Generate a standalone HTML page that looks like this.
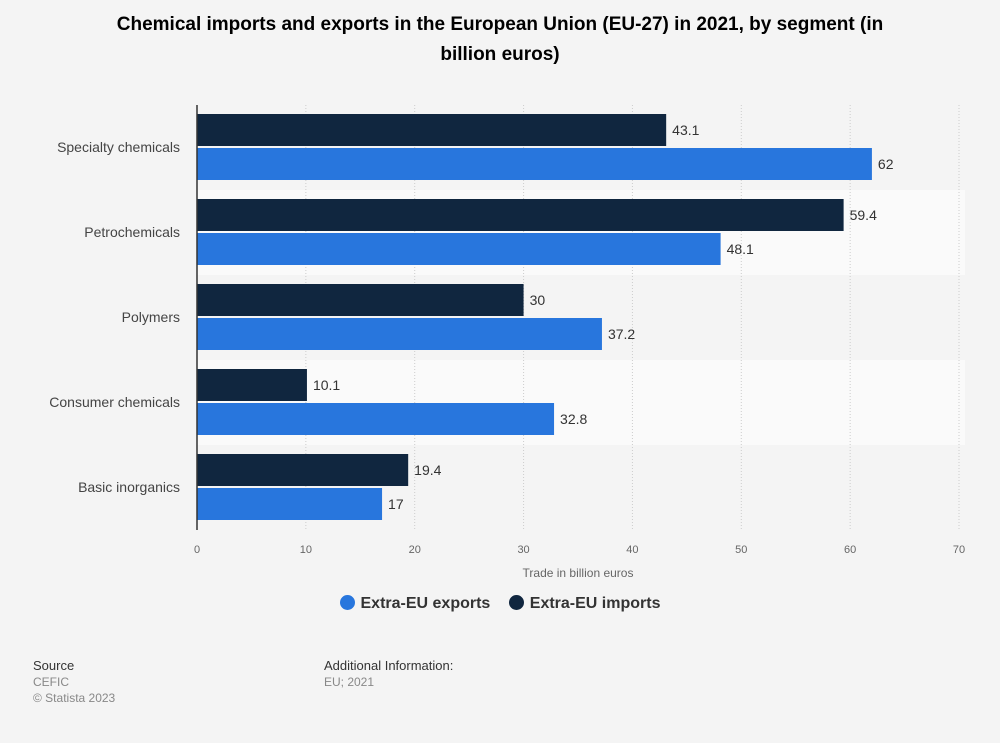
<!DOCTYPE html>
<html><head><meta charset="utf-8"><style>
body{margin:0;background:#f4f4f4;font-family:"Liberation Sans",sans-serif;}
#wrap{position:relative;width:1000px;height:743px;}
.t{position:absolute;}
</style></head><body>
<div id="wrap">
<div class="t" style="left:95px;top:10px;width:810px;text-align:center;font-weight:bold;font-size:19px;line-height:30px;color:#000">Chemical imports and exports in the European Union (EU-27) in 2021, by segment (in billion euros)</div>
<svg id="c" width="1000" height="600" style="position:absolute;left:0;top:0"></svg>
<div class="t" style="left:0;top:595px;width:1000px;text-align:center;font-size:16px;font-weight:bold;color:#333">
<span><span style="display:inline-block;width:15px;height:15px;border-radius:50%;background:#2876dd;vertical-align:-2px;margin-right:6px"></span>Extra-EU exports</span>
<span style="margin-left:14px"><span style="display:inline-block;width:15px;height:15px;border-radius:50%;background:#10263f;vertical-align:-2px;margin-right:6px"></span>Extra-EU imports</span>
</div>
<div class="t" style="left:33px;top:658px;font-size:13px;color:#333;line-height:16px">Source<br><span style="color:#888;font-size:12px">CEFIC<br>© Statista 2023</span></div>
<div class="t" style="left:324px;top:658px;font-size:13px;color:#333;line-height:16px">Additional Information:<br><span style="color:#888;font-size:12px">EU; 2021</span></div>
</div>
<script>
const categories=["Specialty chemicals","Petrochemicals","Polymers","Consumer chemicals","Basic inorganics"];
const imports=[43.1,59.4,30,10.1,19.4];
const exportsV=[62,48.1,37.2,32.8,17];
const ticks=[0,10,20,30,40,50,60,70];
const svg=document.getElementById('c');const NS='http://www.w3.org/2000/svg';
const x0=197,x1=959,top0=105,band=85;
const xs=v=>x0+(v/70)*(x1-x0);
function el(t,a,p){const e=document.createElementNS(NS,t);for(const k in a)e.setAttribute(k,a[k]);(p||svg).appendChild(e);return e;}
categories.forEach((c,i)=>{if(i%2==1){const r=el('rect',{x:x0,y:top0+i*band,width:965-x0,height:band,fill:'#fafafa'});

}});
ticks.forEach(t=>{if(t>0){const l=el('line',{x1:xs(t),x2:xs(t),y1:top0,y2:top0+5*band,stroke:'#ccc','stroke-dasharray':'1,2'});

}
const tx=el('text',{x:xs(t),y:553,'text-anchor':'middle','font-size':11,fill:'#666'});tx.textContent=t;

});
categories.forEach((c,i)=>{const y=top0+i*band;
const lb=el('text',{x:180,y:y+47,'text-anchor':'end','font-size':14,fill:'#444'});lb.textContent=c;


[[imports[i],'#10263f',9,'import'],[exportsV[i],'#2876dd',43,'export']].forEach(([v,col,off,n])=>{
const b=el('rect',{x:x0,y:y+off,width:xs(v)-x0,height:32,fill:col});


const vt=el('text',{x:xs(v)+6,y:y+off+21,'font-size':14,fill:'#333'});vt.textContent=v;

});});
const ax=el('line',{x1:x0,x2:x0,y1:top0,y2:top0+5*band,stroke:'#333','stroke-width':1.5});


const at=el('text',{x:578,y:577,'text-anchor':'middle','font-size':12,fill:'#666'});at.textContent='Trade in billion euros';


</script>
</body></html>
